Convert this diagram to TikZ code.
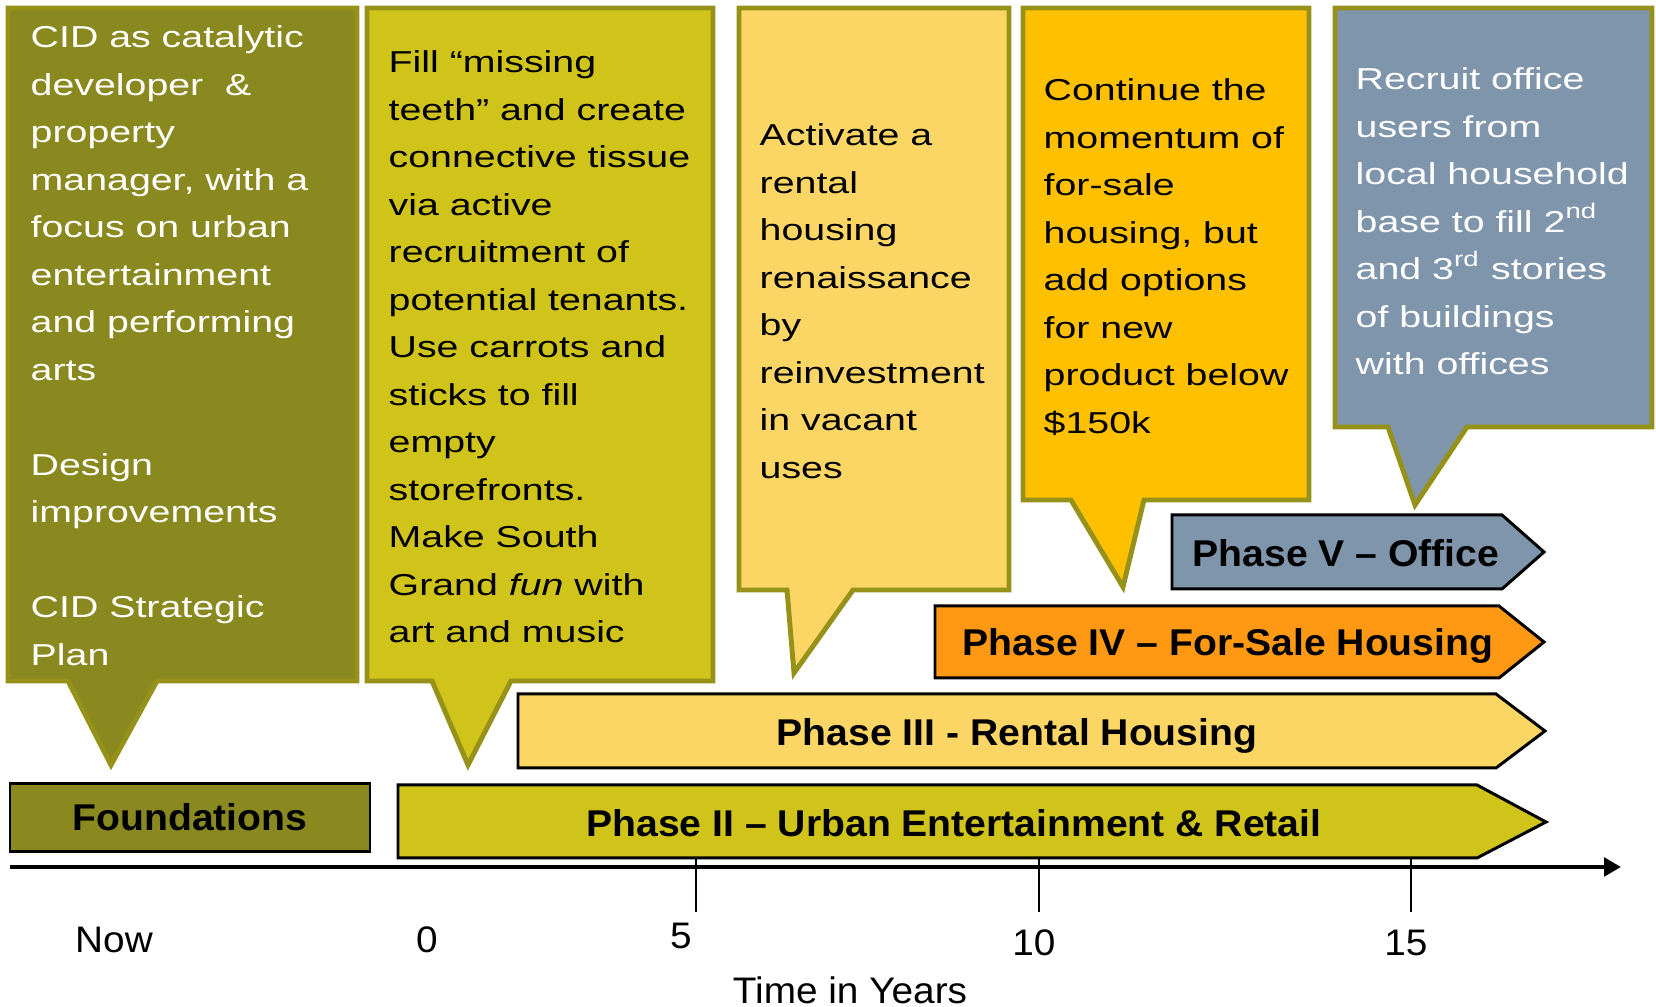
\documentclass[tikz,border=0pt]{standalone}
\usepackage{fontspec}
\setmainfont{Liberation Sans}[FakeStretch=1.05]
\newfontfamily\calloutfont{Liberation Sans}[FakeStretch=1.3]
\usetikzlibrary{arrows.meta}

\definecolor{olivedark}{RGB}{138,137,31}
\definecolor{olivemid}{RGB}{208,196,26}
\definecolor{sand}{RGB}{252,214,100}
\definecolor{amber}{RGB}{255,192,0}
\definecolor{tangerine}{RGB}{255,153,20}
\definecolor{slate}{RGB}{127,149,171}
\definecolor{rim}{RGB}{150,145,25}

\begin{document}
\begin{tikzpicture}[x=0.01cm,y=-0.01cm,
  callout/.style={draw=rim,line width=1.4pt,line join=miter},
  note/.style={anchor=north west,inner sep=0pt,align=left,font=\calloutfont\fontsize{8.6}{13.5}\selectfont},
  phase/.style={draw=black,line width=0.85pt},
  plabel/.style={font=\fontsize{10.6}{12}\selectfont\bfseries},
  years/.style={font=\fontsize{10.5}{12}\selectfont}]

\useasboundingbox (0,0) rectangle (1656,1007);

% speech boxes along the top
\draw[callout,fill=olivedark] (8,8) -- (357,8) -- (357,681) -- (157,681) -- (111,765) -- (68,681) -- (8,681) -- cycle;
\draw[callout,fill=olivemid] (367,8) -- (713,8) -- (713,681) -- (511,681) -- (468,765) -- (432,681) -- (367,681) -- cycle;
\draw[callout,fill=sand] (739,8) -- (1009,8) -- (1009,590) -- (853,590) -- (794,673) -- (787,590) -- (739,590) -- cycle;
\draw[callout,fill=amber] (1023,8) -- (1309,8) -- (1309,500) -- (1144,500) -- (1123,587) -- (1071,500) -- (1023,500) -- cycle;
\draw[callout,fill=slate] (1335,8) -- (1652,8) -- (1652,427) -- (1467,427) -- (1415,505) -- (1388,427) -- (1335,427) -- cycle;

\node[note,text=white] (cid) at (30,14) {\strut CID as catalytic\\developer~ \&\\property\\manager, with a\\focus on urban\\entertainment\\and performing\\arts\\[13.5pt]Design\\improvements\\[13.5pt]CID Strategic\\Plan};
\node[note] (teeth) at (388,39) {\strut Fill “missing\\teeth” and create\\connective tissue\\via active\\recruitment of\\potential tenants.\\Use carrots and\\sticks to fill\\empty\\storefronts.\\Make South\\Grand \textit{fun} with\\art and music};
\node[note] (rental) at (759,112) {\strut Activate a\\rental\\housing\\renaissance\\by\\reinvestment\\in vacant\\uses};
\node[note] (forsale) at (1043,67) {\strut Continue the\\momentum of\\for-sale\\housing, but\\add options\\for new\\product below\\\$150k};
\node[note,text=white] (office) at (1355,56) {\strut Recruit office\\users from\\local household\\base to fill 2\textsuperscript{nd}\\and 3\textsuperscript{rd} stories\\of buildings\\with offices};

% phase bars
\draw[phase,fill=slate] (1172,515) -- (1502,515) -- (1544,552) -- (1502,589) -- (1172,589) -- cycle;
\draw[phase,fill=tangerine] (935,606) -- (1499,606) -- (1544,642) -- (1499,678) -- (935,678) -- cycle;
\draw[phase,fill=sand] (518,694) -- (1496,694) -- (1545,731) -- (1496,768) -- (518,768) -- cycle;
\draw[phase,fill=olivemid] (398,785) -- (1477,785) -- (1546,822) -- (1477,858) -- (398,858) -- cycle;
\draw[phase,fill=olivedark] (10,784) rectangle (370,852);

\node[plabel] (p5) at (1346,553) {Phase V -- Office};
\node[plabel] (p4) at (1228,646) {Phase IV -- For-Sale Housing};
\node[plabel] (p3) at (1017,736) {Phase III - Rental Housing};
\node[plabel] (p2) at (954,823) {Phase II -- Urban Entertainment \& Retail};
\node[plabel] (p1) at (190,817) {Foundations};

% time axis
\coordinate (o) at (10,867);
\coordinate (e) at (1621,867);
\draw[line width=1.4pt,-{Triangle[length=4.8pt,width=5.2pt]}] (o) -- (e);
\foreach \x in {696,1039,1411}
  \draw[line width=0.6pt] (\x,858) -- (\x,912);

\node[years] (now) at (114,940) {Now};
\node[years] (y0) at (427,940) {0};
\node[years] (y5) at (681,936) {5};
\node[years] (y10) at (1034,943) {10};
\node[years] (y15) at (1406,943) {15};
\node[years] (axis) at (850,990) {Time in Years};

\end{tikzpicture}
\end{document}
